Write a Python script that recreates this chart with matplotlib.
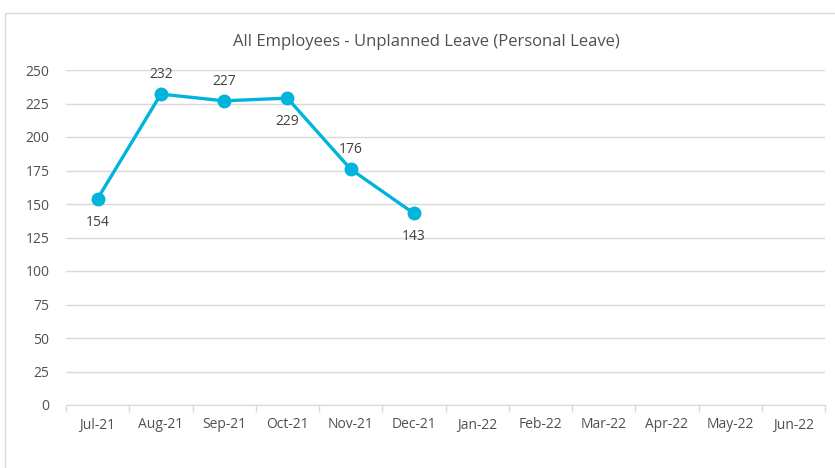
import matplotlib.pyplot as plt
from matplotlib.patches import Rectangle

months = ['Jul-21', 'Aug-21', 'Sep-21', 'Oct-21', 'Nov-21', 'Dec-21',
          'Jan-22', 'Feb-22', 'Mar-22', 'Apr-22', 'May-22', 'Jun-22']
leave = [154, 232, 227, 229, 176, 143]
label_pos = ['below', 'above', 'above', 'below', 'above', 'below']
y_ticks = [0, 25, 50, 75, 100, 125, 150, 175, 200, 225, 250]

txt = '#505050'
grid = '#D9D9D9'
line_c = '#00B4DC'

plt.rcParams['font.family'] = ['Open Sans', 'DejaVu Sans']

fig = plt.figure(figsize=(8.35, 4.68), dpi=100)
fig.patches.append(Rectangle((5 / 835, -0.1), 1.0, 1 - 13 / 468 + 0.1,
                             transform=fig.transFigure, fill=False,
                             edgecolor=grid, linewidth=1))
ax = fig.add_axes([66 / 835, 1 - 405 / 468, 759 / 835, 335 / 468])

x = list(range(len(leave)))
ax.plot(x, leave, color=line_c, linewidth=2.4, marker='o', markersize=9,
        solid_joinstyle='round', zorder=3)
for xi, v, pos in zip(x, leave, label_pos):
    off = 14 if pos == 'above' else -17
    ax.annotate(str(v), (xi, v), xytext=(0, off), textcoords='offset points',
                ha='center', va='center', fontsize=10, color='#404040')

ax.set_xlim(-0.5, len(months) - 0.5)
ax.set_ylim(0, 250)
ax.set_yticks(y_ticks)
ax.set_yticklabels([str(t) for t in y_ticks], fontsize=10, color=txt)
ax.set_xticks(range(len(months)))
ax.set_xticklabels(months, fontsize=10, color=txt)
ax.tick_params(axis='x', length=0, pad=9)
ax.tick_params(axis='y', length=0, pad=12)
ax.set_xticks([i - 0.5 for i in range(len(months) + 1)], minor=True)
ax.tick_params(axis='x', which='minor', length=5, color=grid, width=1)

ax.grid(axis='y', color=grid, linewidth=1)
ax.set_axisbelow(True)
for s in ['top', 'right', 'left']:
    ax.spines[s].set_visible(False)
ax.spines['bottom'].set_color(grid)

fig.text(426 / 835, 1 - 42 / 468, 'All Employees - Unplanned Leave (Personal Leave)',
         ha='center', va='center', fontsize=12, color=txt)

fig.savefig('out.png', dpi=100)
